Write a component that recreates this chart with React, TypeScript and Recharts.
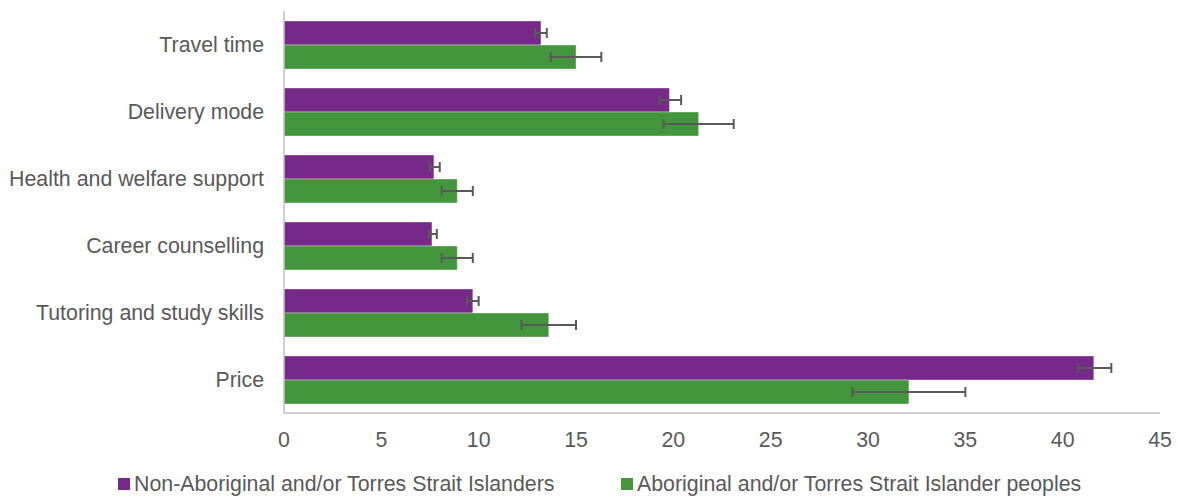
import React from 'react';
import { BarChart, Bar, XAxis, YAxis, ErrorBar, Legend } from 'recharts';

const categories = [
  'Travel time',
  'Delivery mode',
  'Health and welfare support',
  'Career counselling',
  'Tutoring and study skills',
  'Price',
];

const seriesNames = [
  'Non-Aboriginal and/or Torres Strait Islanders',
  'Aboriginal and/or Torres Strait Islander peoples',
];

const nonAboriginal = [13.2, 19.8, 7.7, 7.6, 9.7, 41.6];
const nonAboriginalLow = [12.9, 19.3, 7.5, 7.45, 9.4, 40.8];
const nonAboriginalHigh = [13.5, 20.4, 8.0, 7.85, 10.0, 42.5];

const aboriginal = [15.0, 21.3, 8.9, 8.9, 13.6, 32.1];
const aboriginalLow = [13.7, 19.5, 8.1, 8.1, 12.2, 29.2];
const aboriginalHigh = [16.3, 23.1, 9.7, 9.7, 15.0, 35.0];

const xTicks = [0, 5, 10, 15, 20, 25, 30, 35, 40, 45];

const PURPLE = '#772989';
const GREEN = '#43963B';
const TEXT = '#595959';
const AXIS = '#BFBFBF';
const FONT = '"Liberation Sans", Arial, sans-serif';
const FONT_SIZE = 21.33;

const data = categories.map((c, i) => ({
  category: c,
  nonAb: nonAboriginal[i],
  nonAbErr: [
    +(nonAboriginal[i] - nonAboriginalLow[i]).toFixed(3),
    +(nonAboriginalHigh[i] - nonAboriginal[i]).toFixed(3),
  ],
  ab: aboriginal[i],
  abErr: [
    +(aboriginal[i] - aboriginalLow[i]).toFixed(3),
    +(aboriginalHigh[i] - aboriginal[i]).toFixed(3),
  ],
}));

const legendItems = [
  { name: seriesNames[0], color: PURPLE, width: 503 },
  { name: seriesNames[1], color: GREEN, width: undefined as number | undefined },
];

const renderLegend = () => (
  <div
    style={{
      display: 'flex',
      justifyContent: 'flex-start',
      paddingLeft: 118,
      paddingTop: 9,
      fontFamily: FONT,
      fontSize: FONT_SIZE,
      lineHeight: '24px',
      color: TEXT,
      whiteSpace: 'nowrap',
    }}
  >
    {legendItems.map((it) => (
      <div
        key={it.name}
        style={{ display: 'flex', alignItems: 'center', width: it.width }}
      >
        <span
          style={{
            display: 'inline-block',
            width: 12,
            height: 12,
            background: it.color,
            marginRight: 4,
          }}
        />
        <span>{it.name}</span>
      </div>
    ))}
  </div>
);

export default function App() {
  return (
    <div style={{ position: 'absolute', left: 0, top: 0, background: '#fff' }}>
      <BarChart
        width={1178}
        height={498}
        data={data}
        layout="vertical"
        margin={{ top: 11, right: 18, bottom: 0, left: 0 }}
        barSize={24}
        barGap={0}
      >
        <XAxis
          type="number"
          domain={[0, 45]}
          ticks={xTicks}
          interval={0}
          allowDataOverflow
          axisLine={{ stroke: AXIS, strokeWidth: 1.5 }}
          tickLine={false}
          tickSize={6}
          tickMargin={13}
          height={50}
          tick={{ fill: TEXT, fontSize: FONT_SIZE, fontFamily: FONT }}
        />
        <YAxis
          type="category"
          dataKey="category"
          width={284}
          axisLine={{ stroke: AXIS, strokeWidth: 1.5 }}
          tickLine={false}
          tickSize={6}
          tickMargin={14}
          tick={{ fill: TEXT, fontSize: FONT_SIZE, fontFamily: FONT }}
        />
        <Legend verticalAlign="bottom" height={35} content={renderLegend} />
        <Bar
          dataKey="nonAb"
          name={seriesNames[0]}
          fill={PURPLE}
          stroke="#ffffff"
          strokeOpacity={0.35}
          strokeWidth={1}
          isAnimationActive={false}
        >
          <ErrorBar
            dataKey="nonAbErr"
            direction="x"
            width={5}
            stroke={TEXT}
            strokeWidth={2}
            isAnimationActive={false}
          />
        </Bar>
        <Bar
          dataKey="ab"
          name={seriesNames[1]}
          fill={GREEN}
          stroke="#ffffff"
          strokeOpacity={0.35}
          strokeWidth={1}
          isAnimationActive={false}
        >
          <ErrorBar
            dataKey="abErr"
            direction="x"
            width={5}
            stroke={TEXT}
            strokeWidth={2}
            isAnimationActive={false}
          />
        </Bar>
      </BarChart>
    </div>
  );
}
